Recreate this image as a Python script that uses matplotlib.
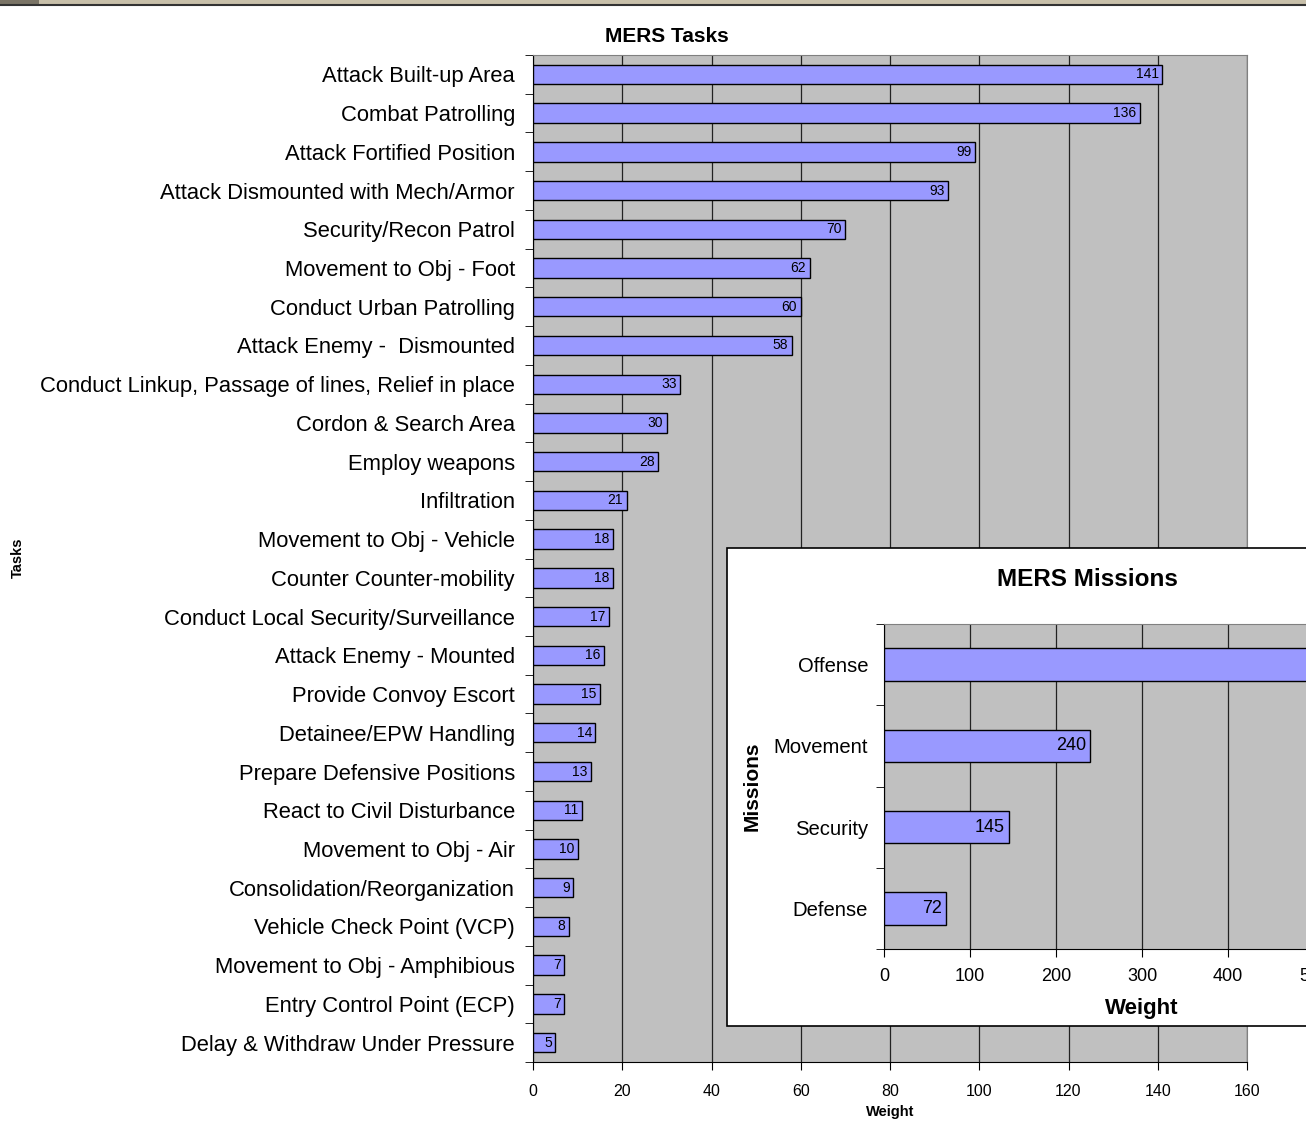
import numpy as np
import matplotlib.pyplot as plt
from matplotlib.patches import Rectangle

plt.rcParams["font.family"] = ["Liberation Sans", "DejaVu Sans"]

tasks = [
    "Attack Built-up Area", "Combat Patrolling", "Attack Fortified Position",
    "Attack Dismounted with Mech/Armor", "Security/Recon Patrol",
    "Movement to Obj - Foot", "Conduct Urban Patrolling",
    "Attack Enemy -  Dismounted",
    "Conduct Linkup, Passage of lines, Relief in place",
    "Cordon & Search Area", "Employ weapons", "Infiltration",
    "Movement to Obj - Vehicle", "Counter Counter-mobility",
    "Conduct Local Security/Surveillance", "Attack Enemy - Mounted",
    "Provide Convoy Escort", "Detainee/EPW Handling",
    "Prepare Defensive Positions", "React to Civil Disturbance",
    "Movement to Obj - Air", "Consolidation/Reorganization",
    "Vehicle Check Point (VCP)", "Movement to Obj - Amphibious",
    "Entry Control Point (ECP)", "Delay & Withdraw Under Pressure",
]
task_weights = [141, 136, 99, 93, 70, 62, 60, 58, 33, 30, 28, 21, 18, 18,
                17, 16, 15, 14, 13, 11, 10, 9, 8, 7, 7, 5]

missions = ["Offense", "Movement", "Security", "Defense"]
mission_weights = [560, 240, 145, 72]

BAR = "#9999FF"
BG = "#C0C0C0"

W, H = 1306, 1125
fig = plt.figure(figsize=(W / 100, H / 100), dpi=100)


def fx(px):
    return px / W


def fy(py):
    return 1 - py / H


# window strip at the top
fig.patches.append(Rectangle((0, fy(5)), 1, 5 / H, transform=fig.transFigure,
                             facecolor="#C8C0AA", edgecolor="none"))
fig.patches.append(Rectangle((0, fy(5)), 0.03, 5 / H, transform=fig.transFigure,
                             facecolor="#7A7466", edgecolor="none"))
fig.add_artist(plt.Line2D([0, 1], [fy(5), fy(5)], transform=fig.transFigure,
                          color="#333333", lw=1.5))

# main chart
ax = fig.add_axes([fx(533), fy(1062), fx(1247 - 533), (1062 - 55) / H])
ax.set_facecolor(BG)
y = np.arange(len(tasks))
ax.barh(y, task_weights, height=0.5, color=BAR, edgecolor="black", lw=1,
        zorder=3)
for yi, v in zip(y, task_weights):
    ax.text(v - 0.8, yi, str(v), ha="right", va="center", fontsize=10,
            zorder=4)
ax.set_xlim(0, 160)
ax.set_ylim(len(tasks) - 0.5, -0.5)
ax.set_xticks(np.arange(0, 161, 20))
ax.set_yticks(y)
ax.set_yticklabels(tasks, fontsize=15.8)
ax.set_yticks(np.arange(-0.5, len(tasks), 1), minor=True)
ax.tick_params(axis="y", which="major", length=0, pad=13)
ax.tick_params(axis="y", which="minor", length=6, direction="out")
ax.tick_params(axis="x", length=6, direction="out", labelsize=11.5, pad=10)
ax.grid(axis="x", color="#222222", lw=0.9, zorder=1)
for s in ["top", "right"]:
    ax.spines[s].set_color("#808080")
fig.text(fx(667), fy(37), "MERS Tasks", ha="center", va="center",
         fontsize=15, fontweight="bold")
ax.set_xlabel("Weight", fontsize=10.5, fontweight="bold", labelpad=4)
fig.text(fx(18), fy(558), "Tasks", rotation=90, ha="center", va="center",
         fontsize=10.5, fontweight="bold")

# inset box
fig.patches.append(Rectangle((fx(727), fy(1026)), 0.6, (1026 - 548) / H,
                             transform=fig.transFigure, facecolor="white",
                             edgecolor="black", lw=1.2, zorder=5))

ax2 = fig.add_axes([fx(884), fy(949), fx(1400 - 884), (949 - 624) / H],
                   zorder=6)
ax2.set_facecolor(BG)
y2 = np.arange(len(missions))
ax2.barh(y2, mission_weights, height=0.4, color=BAR, edgecolor="black",
         lw=1, zorder=3)
for yi, v in zip(y2, mission_weights):
    ax2.text(v - 5, yi, str(v), ha="right", va="center", fontsize=13,
             zorder=4)
ax2.set_xlim(0, 600)
ax2.set_ylim(len(missions) - 0.5, -0.5)
ax2.set_xticks(np.arange(0, 601, 100))
ax2.set_yticks(y2)
ax2.set_yticklabels(missions, fontsize=14.6)
ax2.set_yticks(np.arange(-0.5, len(missions), 1), minor=True)
ax2.tick_params(axis="y", which="major", length=0, pad=11.5)
ax2.tick_params(axis="y", which="minor", length=6, direction="out")
ax2.tick_params(axis="x", length=6, direction="out", labelsize=13, pad=8)
ax2.grid(axis="x", color="#222222", lw=0.9, zorder=1)
for s in ["top", "right"]:
    ax2.spines[s].set_color("#808080")
ax2.set_xlabel("Weight", fontsize=16, fontweight="bold", labelpad=9)
fig.text(fx(1087), fy(580), "MERS Missions", ha="center", va="center",
         fontsize=17.5, fontweight="bold", zorder=7)
fig.text(fx(752), fy(786), "Missions", rotation=90, ha="center", va="center",
         fontsize=15, fontweight="bold", zorder=7)

fig.savefig("out.png", dpi=100)
